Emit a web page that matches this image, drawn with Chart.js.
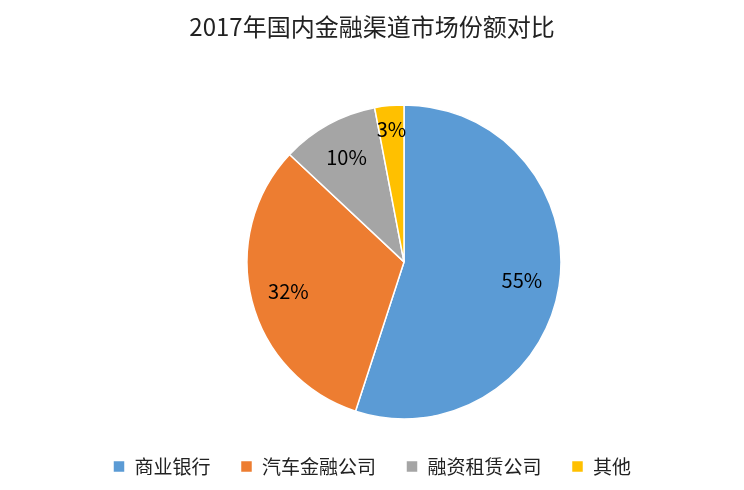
<!DOCTYPE html>
<html>
<head>
<meta charset="utf-8">
<script src="https://cdn.jsdelivr.net/npm/chart.js@4"></script>
<style>
  body { margin: 0; background: #fff; }
  #wrap { width: 744px; height: 490px; }
</style>
</head>
<body>
<div id="wrap"><canvas id="pieChart"></canvas></div>
<script>
// chart data
const categories = ['商业银行', '汽车金融公司', '融资租赁公司', '其他'];
const shares = [55, 32, 10, 3];
const colors = ['#5b9bd5', '#ed7d31', '#a5a5a5', '#ffc000'];

const FONT = '"Noto Sans CJK SC", "Noto Sans", sans-serif';

// shift pie a bit right (as in the original) and put percentage labels inside slices
const sliceLabels = {
  id: 'sliceLabels',
  beforeDatasetsDraw(chart) {
    chart.ctx.save();
    chart.ctx.translate(32, 0);
  },
  afterDatasetsDraw(chart) {
    const ctx = chart.ctx;
    const meta = chart.getDatasetMeta(0);
    ctx.font = '20px ' + FONT;
    ctx.fillStyle = '#000';
    ctx.textAlign = 'center';
    ctx.textBaseline = 'middle';
    meta.data.forEach((arc, i) => {
      const a = (arc.startAngle + arc.endAngle) / 2;
      const r = arc.outerRadius * (i === 3 ? 0.85 : 0.76);
      ctx.fillText(shares[i] + '%', arc.x + Math.cos(a) * r, arc.y + Math.sin(a) * r);
    });
    ctx.restore();
  }
};

new Chart(document.getElementById('pieChart'), {
  type: 'pie',
  data: {
    labels: categories,
    datasets: [{
      data: shares,
      backgroundColor: colors,
      borderColor: '#fff',
      borderWidth: 1.5,
      radius: 157
    }]
  },
  options: {
    responsive: true,
    maintainAspectRatio: false,
    animation: false,
    layout: { padding: { top: 0, bottom: 4 } },
    plugins: {
      title: {
        display: true,
        text: '2017年国内金融渠道市场份额对比',
        color: '#222',
        font: { family: FONT, size: 24, weight: 'normal' },
        padding: { top: 12, bottom: 56 }
      },
      legend: {
        position: 'bottom',
        labels: {
          color: '#222',
          font: { family: FONT, size: 19 },
          boxWidth: 12,
          boxHeight: 12,
          padding: 30
        }
      },
      tooltip: { enabled: false }
    }
  },
  plugins: [sliceLabels]
});
</script>
</body>
</html>
